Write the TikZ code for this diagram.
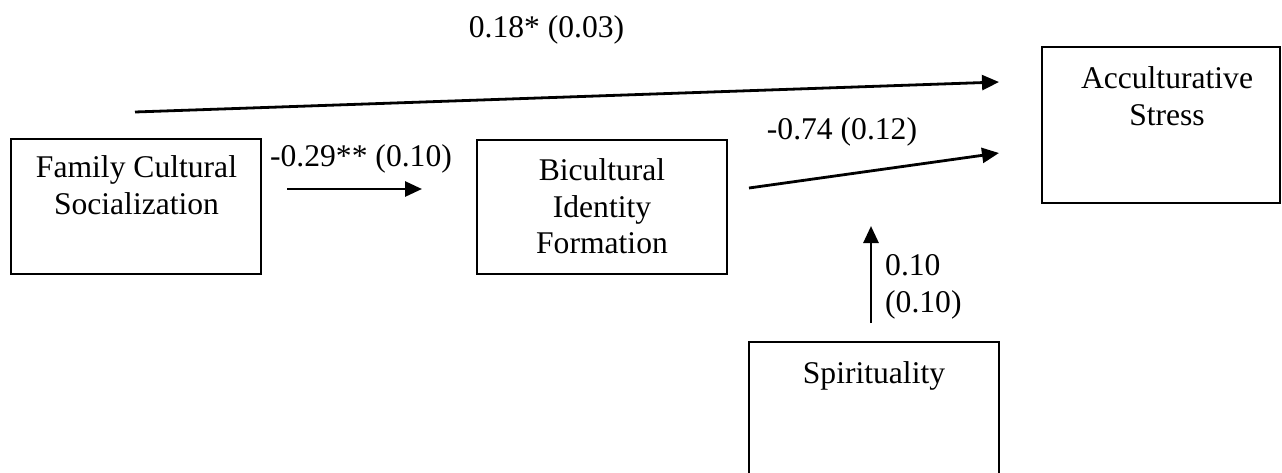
\documentclass[tikz,border=0pt]{standalone}
\usepackage{fontspec}
\setmainfont{Liberation Serif}
\usetikzlibrary{arrows.meta}
\begin{document}
\begin{tikzpicture}[x=1pt,y=-1pt,
  box/.style={draw=black, line width=1.7pt, rectangle, inner sep=0pt},
  boxtext/.style={anchor=north, align=center, inner sep=0pt, font=\fontsize{31.6}{36.5}\selectfont},
  lbl/.style={anchor=base, inner sep=0pt, font=\fontsize{31.6}{36.5}\selectfont},
  lblw/.style={anchor=base west, inner sep=0pt, font=\fontsize{31.6}{36.5}\selectfont},
  conn/.style={line width=2.8pt, -{Triangle[length=17pt,width=15pt]}}
]
\clip (0,0) rectangle (1282,472);

% boxes
\node[box, minimum width=250pt, minimum height=135pt] (fcs) at (136,206.5) {};
\node[box, minimum width=250pt, minimum height=134pt] (bif) at (602,207) {};
\node[box, minimum width=238pt, minimum height=156pt] (acs) at (1161,125) {};
\node[box, minimum width=250pt, minimum height=150pt] (spi) at (874,417) {};

% box texts
\node[boxtext] (fcst) at (136.5,155.4) {Family Cultural\\Socialization};
\node[boxtext] (bift) at (602,158.4) {Bicultural\\Identity\\Formation};
\node[boxtext] (acst) at (1167,66.4) {Acculturative\\Stress};
\node[boxtext] (spit) at (874,361.4) {Spirituality};

% connector end points
\coordinate (t0) at (135,112);
\coordinate (t1) at (999,82);
\coordinate (a0) at (287,189);
\coordinate (a1) at (422,189);
\coordinate (b0) at (749,188);
\coordinate (b1) at (999,153);
\coordinate (s0) at (871,323);
\coordinate (s1) at (871,226);

% connectors
\draw[conn] (t0) -- (t1);
\draw[conn] (a0) -- (a1);
\draw[conn] (b0) -- (b1);
\draw[conn] (s0) -- (s1);

% labels
\node[lbl] (lt) at (546.5,37) {0.18* (0.03)};
\node[lbl] (la) at (361,166) {-0.29** (0.10)};
\node[lbl] (lb) at (842,139) {-0.74 (0.12)};
\node[lblw] (ls1) at (885,275) {0.10};
\node[lblw] (ls2) at (885,312) {(0.10)};
\end{tikzpicture}
\end{document}
